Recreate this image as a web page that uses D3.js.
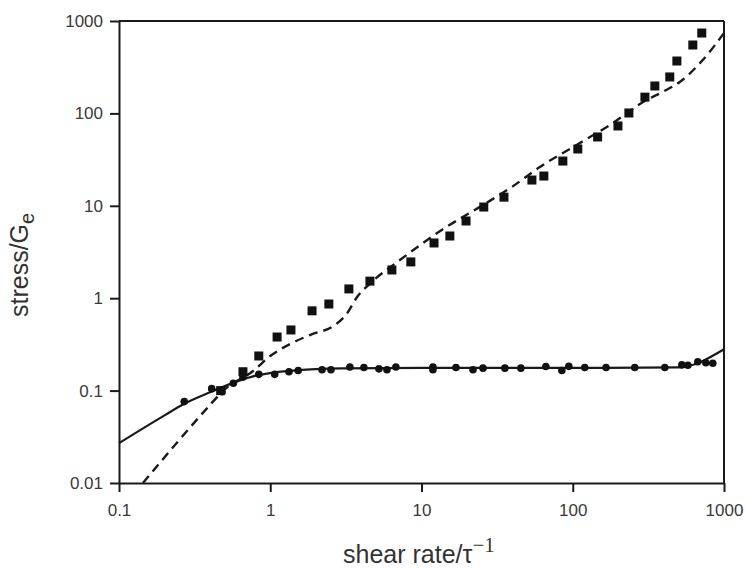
<!DOCTYPE html>
<html>
<head>
<meta charset="utf-8">
<script src="https://cdn.jsdelivr.net/npm/d3@7"></script>
<style>
  html, body { margin: 0; padding: 0; background: #fff; }
  svg { display: block; }
  text { font-family: "Liberation Sans", Arial, Helvetica, sans-serif; }
</style>
</head>
<body>
<svg id="chart" width="746" height="568"></svg>
<script>
// ---- data ----
const xTickValues = [0.1, 1, 10, 100, 1000];
const xTickLabels = ["0.1", "1", "10", "100", "1000"];
const yTickValues = [0.01, 0.1, 1, 10, 100, 1000];
const yTickLabels = ["0.01", "0.1", "1", "10", "100", "1000"];

// square markers (shear stress data)
const squareX = [0.47, 0.66, 0.84, 1.11, 1.37, 1.89, 2.44, 3.31, 4.56, 6.37, 8.5, 12.1, 15.4, 19.7, 25.8, 35.1, 53.7, 64.4, 86, 108, 146, 199, 235, 300, 349, 438, 488, 622, 713];
const squareY = [0.1, 0.16, 0.237, 0.38, 0.453, 0.73, 0.865, 1.26, 1.53, 2.02, 2.47, 3.96, 4.71, 6.85, 9.7, 12.4, 19.0, 21.0, 30.5, 41.2, 55.6, 73.1, 101, 150, 198, 248, 369, 550, 741];

// circle markers
const circleX = [0.27, 0.41, 0.48, 0.57, 0.66, 0.84, 1.07, 1.33, 1.53, 2.2, 2.52, 3.36, 4.16, 5.23, 5.91, 6.77, 11.9, 11.9, 16.9, 21.9, 25.5, 35.6, 45.4, 66.4, 84.7, 94.2, 120, 166, 257, 406, 526, 577, 671, 758, 843];
const circleY = [0.076, 0.105, 0.097, 0.12, 0.14, 0.15, 0.15, 0.16, 0.165, 0.168, 0.168, 0.18, 0.178, 0.172, 0.168, 0.18, 0.18, 0.168, 0.178, 0.168, 0.175, 0.175, 0.175, 0.182, 0.165, 0.183, 0.178, 0.178, 0.178, 0.178, 0.19, 0.188, 0.205, 0.2, 0.198];

// solid model curve
const solidX = [0.1, 0.2, 0.27, 0.4, 0.6, 0.8, 1.0, 1.5, 2.0, 3.0, 10, 100, 500, 1000];
const solidY = [0.027, 0.054, 0.072, 0.096, 0.125, 0.145, 0.155, 0.166, 0.171, 0.174, 0.176, 0.176, 0.178, 0.28];

// dashed model curve
const dashX = [0.144, 0.40, 0.486, 0.77, 1.0, 1.35, 1.91, 2.62, 3.2, 3.75, 4.55, 7.5, 13.6, 25.5, 39.6, 60.6, 106, 176, 309, 394, 510, 724, 1000];
const dashY = [0.01, 0.070, 0.099, 0.163, 0.237, 0.319, 0.41, 0.50, 0.675, 1.03, 1.43, 2.72, 5.47, 10.2, 16.0, 26.3, 45.5, 74.9, 140, 171, 219, 378, 741];

const xTitle = "shear rate/\u03c4";
const xTitleSup = "\u22121";
const yTitle = "stress/G";
const yTitleSub = "e";

// ---- drawing ----
const svg = d3.select("#chart");
const ink = "#1a1a1a";
const labelInk = "#3a3a3a";

const x = d3.scaleLog().domain([0.1, 1000]).range([119, 724]);
const y = d3.scaleLog().domain([0.01, 1000]).range([483, 21]);

// box top & right
svg.append("line").attr("x1", x(0.1)).attr("x2", x(1000)).attr("y1", y(1000)).attr("y2", y(1000))
  .attr("stroke", ink).attr("stroke-width", 2);
svg.append("line").attr("x1", x(1000)).attr("x2", x(1000)).attr("y1", y(1000)).attr("y2", y(0.01))
  .attr("stroke", ink).attr("stroke-width", 2);

const xAxis = d3.axisBottom(x).tickValues(xTickValues)
  .tickFormat((d, i) => xTickLabels[i]).tickSize(9).tickSizeOuter(0).tickPadding(12);
const gx = svg.append("g").attr("transform", `translate(0,${y(0.01)})`).call(xAxis);
gx.select(".domain").attr("stroke", ink).attr("stroke-width", 2);
gx.selectAll(".tick line").attr("stroke", ink).attr("stroke-width", 2);
gx.selectAll(".tick text").attr("font-size", 17).attr("fill", labelInk)
  .attr("font-family", "'Liberation Sans', Arial, sans-serif");

const yAxis = d3.axisLeft(y).tickValues(yTickValues)
  .tickFormat((d, i) => yTickLabels[i]).tickSize(9).tickSizeOuter(0).tickPadding(7);
const gy = svg.append("g").attr("transform", `translate(${x(0.1)},0)`).call(yAxis);
gy.select(".domain").attr("stroke", ink).attr("stroke-width", 2);
gy.selectAll(".tick line").attr("stroke", ink).attr("stroke-width", 2);
gy.selectAll(".tick text").attr("font-size", 17).attr("fill", labelInk)
  .attr("font-family", "'Liberation Sans', Arial, sans-serif");

// curves
const lineGen = d3.line().x(d => x(d[0])).y(d => y(d[1])).curve(d3.curveMonotoneX);
svg.append("path").datum(solidX.map((v, i) => [v, solidY[i]]))
  .attr("d", lineGen).attr("fill", "none").attr("stroke", ink).attr("stroke-width", 2.2);
svg.append("path").datum(dashX.map((v, i) => [v, dashY[i]]))
  .attr("d", lineGen).attr("fill", "none").attr("stroke", ink).attr("stroke-width", 2.4)
  .attr("stroke-dasharray", "9,6");

// markers
const sq = 9;
svg.append("g").selectAll("rect").data(squareX.map((v, i) => [v, squareY[i]])).join("rect")
  .attr("x", d => x(d[0]) - sq / 2).attr("y", d => y(d[1]) - sq / 2)
  .attr("width", sq).attr("height", sq).attr("fill", "#111");
svg.append("g").selectAll("circle").data(circleX.map((v, i) => [v, circleY[i]])).join("circle")
  .attr("cx", d => x(d[0])).attr("cy", d => y(d[1])).attr("r", 3.8).attr("fill", "#111");

// axis titles
const xt = svg.append("text").attr("x", 343).attr("y", 563).attr("font-size", 25).attr("fill", "#333")
  .attr("font-family", "'Liberation Sans', Arial, sans-serif");
xt.append("tspan").text(xTitle);
xt.append("tspan").attr("dy", -11).attr("font-size", 21)
  .attr("font-family", "'Liberation Serif', 'Times New Roman', serif").text(xTitleSup);

const yt = svg.append("text").attr("transform", "translate(28,317) rotate(-90)")
  .attr("font-size", 25).attr("fill", "#333")
  .attr("font-family", "'Liberation Sans', Arial, sans-serif");
yt.append("tspan").text(yTitle);
yt.append("tspan").attr("dy", 6).attr("font-size", 20).text(yTitleSub);
</script>
</body>
</html>
